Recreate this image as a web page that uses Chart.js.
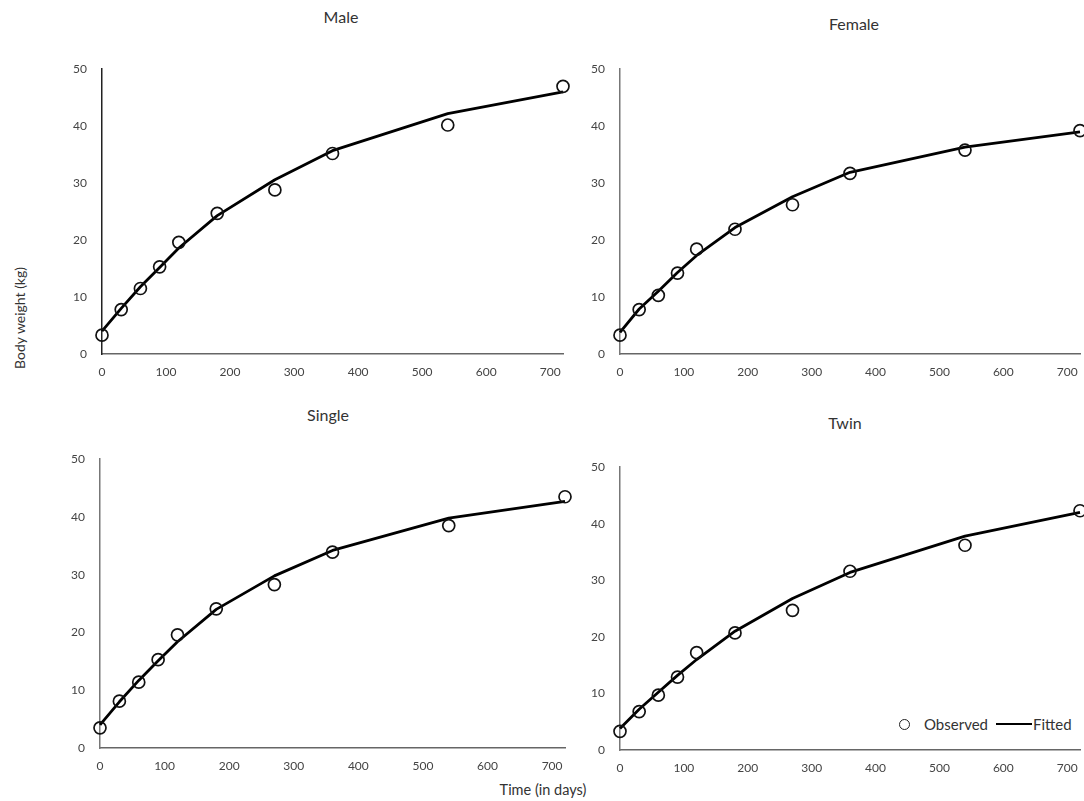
<!DOCTYPE html>
<html>
<head>
<meta charset="utf-8">
<title>Body weight growth curves</title>
<script src="https://cdn.jsdelivr.net/npm/chart.js@4.4.1/dist/chart.umd.min.js"></script>
<style>
  html, body { margin: 0; padding: 0; background: #fff; overflow: hidden; }
  body { width: 1084px; height: 801px; position: relative; font-family: Lato, 'Open Sans', sans-serif; color: #333; }
  canvas { position: absolute; }
  .title { position: absolute; font-size: 16px; transform: translate(-50%, -50%); white-space: nowrap; color: #333; }
  .xlabel { position: absolute; left: 543px; top: 789px; font-size: 14.5px; transform: translate(-50%, -50%); white-space: nowrap; color: #333; }
  .ylabel { position: absolute; left: 19px; top: 318px; font-size: 14px; transform: translate(-50%, -50%) rotate(-90deg); white-space: nowrap; color: #333; }
  .legend { position: absolute; left: 899px; top: 715px; font-size: 15px; display: flex; align-items: center; white-space: nowrap; color: #333; }
  .legend .dot { width: 9px; height: 9px; border: 1.7px solid #222; border-radius: 50%; margin-right: 14px; }
  .legend .dash { width: 36px; height: 2.6px; background: #000; margin: 0 1px 0 8px; }
</style>
</head>
<body>

<div class="title" style="left:341px;top:16px">Male</div>
<div class="title" style="left:854px;top:23px">Female</div>
<div class="title" style="left:328px;top:414px">Single</div>
<div class="title" style="left:845px;top:422px">Twin</div>
<div class="ylabel">Body weight (kg)</div>
<div class="xlabel">Time (in days)</div>
<div class="legend"><span class="dot"></span>Observed<span class="dash"></span>Fitted</div>

<canvas id="male"></canvas>
<canvas id="female"></canvas>
<canvas id="single"></canvas>
<canvas id="twin"></canvas>

<script>
// sampling times (days) and axis ticks
const days = [0, 30, 60, 90, 120, 180, 270, 360, 540, 720];
const xTicks = [0, 100, 200, 300, 400, 500, 600, 700];
const yTicks = [0, 10, 20, 30, 40, 50];

// body weight (kg)
const maleObserved   = [3.3, 7.8, 11.5, 15.3, 19.6, 24.7, 28.8, 35.2, 40.2, 47.0];
const maleFitted     = [4.0, 8.0, 11.8, 15.2, 18.6, 24.3, 30.6, 35.7, 42.2, 46.0];
const femaleObserved = [3.3, 7.8, 10.3, 14.2, 18.4, 21.9, 26.2, 31.7, 35.8, 39.2];
const femaleFitted   = [3.8, 7.9, 11.0, 14.3, 17.3, 22.2, 27.6, 31.9, 36.3, 39.0];
const singleObserved = [3.5, 8.1, 11.4, 15.3, 19.6, 24.1, 28.3, 33.9, 38.5, 43.5];
const singleFitted   = [4.0, 8.0, 11.7, 15.1, 18.4, 24.0, 29.8, 34.2, 39.8, 42.7];
const twinObserved   = [3.3, 6.8, 9.7, 12.9, 17.2, 20.7, 24.7, 31.6, 36.2, 42.3];
const twinFitted     = [3.8, 7.2, 10.2, 13.2, 16.0, 21.0, 26.8, 31.4, 37.8, 42.0];

// plot area of each panel in page pixels
const panels = [
  { id: 'male',   obs: maleObserved,   fit: maleFitted,   left: 102, top: 59,  right: 563,  bottom: 354, yAxisColor: '#222' },
  { id: 'female', obs: femaleObserved, fit: femaleFitted, left: 620, top: 59,  right: 1080, bottom: 354, yAxisColor: '#777' },
  { id: 'single', obs: singleObserved, fit: singleFitted, left: 100, top: 449, right: 565,  bottom: 748, yAxisColor: '#777' },
  { id: 'twin',   obs: twinObserved,   fit: twinFitted,   left: 620, top: 457, right: 1080, bottom: 750, yAxisColor: '#777' }
];

const Y_AXIS_W = 45;
const X_AXIS_H = 30;
const PAD_TOP = 12;
const PAD_RIGHT = 14;

const toPoints = (vals) => days.map((d, i) => ({ x: d, y: vals[i] }));

panels.forEach(p => {
  const canvas = document.getElementById(p.id);
  const w = Y_AXIS_W + (p.right - p.left) + PAD_RIGHT;
  const h = PAD_TOP + (p.bottom - p.top) + X_AXIS_H;
  canvas.width = w;
  canvas.height = h;
  canvas.style.left = (p.left - Y_AXIS_W) + 'px';
  canvas.style.top = (p.top - PAD_TOP) + 'px';

  new Chart(canvas, {
    type: 'scatter',
    data: {
      datasets: [{
        label: 'Observed',
        data: toPoints(p.obs),
        showLine: false,
        pointStyle: 'circle',
        pointRadius: 6,
        pointBorderWidth: 1.7,
        pointBorderColor: '#111',
        pointBackgroundColor: 'rgba(255,255,255,0)',
        clip: false
      }, {
        label: 'Fitted',
        data: toPoints(p.fit),
        showLine: true,
        borderColor: '#000',
        borderWidth: 2.8,
        borderJoinStyle: 'round',
        pointRadius: 0,
        tension: 0,
        clip: false
      }]
    },
    options: {
      responsive: false,
      animation: false,
      events: [],
      layout: { padding: { top: PAD_TOP, right: PAD_RIGHT, left: 0, bottom: 0 } },
      plugins: { legend: { display: false }, tooltip: { enabled: false } },
      scales: {
        x: {
          type: 'linear',
          min: 0,
          max: 720,
          afterBuildTicks: s => { s.ticks = xTicks.map(v => ({ value: v })); },
          afterFit: s => { s.height = X_AXIS_H; },
          grid: { display: false, drawTicks: false },
          border: { display: true, color: '#666', width: 1.5 },
          ticks: { padding: 11, color: '#444', font: { family: 'Lato', size: 12 }, maxRotation: 0 }
        },
        y: {
          type: 'linear',
          min: 0,
          max: 50,
          afterBuildTicks: s => { s.ticks = yTicks.map(v => ({ value: v })); },
          afterFit: s => { s.width = Y_AXIS_W; },
          grid: { display: false, drawTicks: false },
          border: { display: true, color: p.yAxisColor, width: 1.5 },
          ticks: { padding: 15, color: '#444', font: { family: 'Lato', size: 12 } }
        }
      }
    }
  });
});
</script>
</body>
</html>
